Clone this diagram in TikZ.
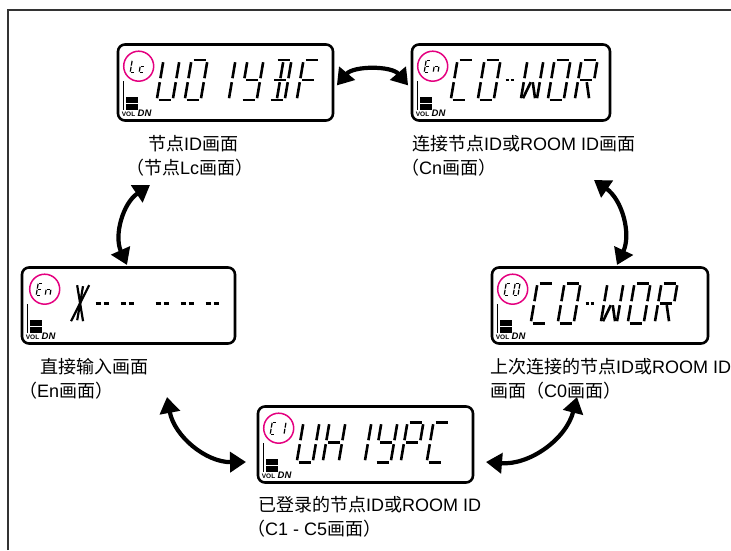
\documentclass[tikz,border=0pt]{standalone}
\usepackage{fontspec}
\setmainfont{Liberation Sans}
\newfontfamily\cjk{Noto Sans CJK SC}
\usetikzlibrary{arrows.meta,positioning}
\definecolor{tagpink}{HTML}{E4007F}
\definecolor{framegray}{HTML}{333333}
\newcommand\zh[1]{{\cjk #1}}
% segments of one slanted lcd cell (16 x 40)
\def\segpatha{(2,40)--(14,40)}
\def\segpathb{(16,38)--(16,22)}
\def\segpathc{(16,18)--(16,2)}
\def\segpathd{(2,0)--(14,0)}
\def\segpathe{(0,2)--(0,18)}
\def\segpathf{(0,22)--(0,38)}
\def\segpathg{(2,20)--(14,20)}
\def\segpathh{(2,38)--(7,22)}
\def\segpathi{(8,38)--(8,22)}
\def\segpathj{(14,38)--(9,22)}
\def\segpathk{(7,18)--(2,2)}
\def\segpathl{(8,18)--(8,2)}
\def\segpathm{(9,18)--(14,2)}
\def\segpathx{(2,38)--(14,2)}
\def\segpathy{(14,38)--(2,2)}
\def\segpathz{(8,37)--(8,3)}
\newcommand\lcdglyph[5]{%
  \begin{scope}[shift={(#1,#2)},scale=#3,xslant=0.17]
    \foreach \s in {#5}{%
      \expandafter\let\expandafter\segp\csname segpath\s\endcsname
      \draw[line width=#4] \segp;}
  \end{scope}}
\newcommand\bigglyph[2]{\lcdglyph{#1}{-57}{1}{2.6pt}{#2}}
\newcommand\tagglyphs[4]{%
  \lcdglyph{#1-8.5}{#2-6}{0.3}{1.2pt}{#3}%
  \lcdglyph{#1+0.5}{#2-6}{0.3}{1.2pt}{#4}}
\newcommand\voldn{%
  \draw[line width=1.2pt] (7,-38)--(7,-67);
  \fill (9,-54) rectangle (21,-67);
  \draw[white,line width=0.9pt] (9,-60.5)--(21,-60.5);
  \node[anchor=base west,inner sep=0pt,font=\fontsize{6.5}{7}\selectfont\bfseries] (vol) at (5,-73.5) {VOL};
  \node[anchor=base west,inner sep=0pt,font=\fontsize{9.5}{10}\selectfont\bfseries\itshape] (dn) at ([xshift=2pt]vol.base east) {DN};}
\tikzset{
  lcd/.style={draw=black,line width=2.6pt,rounded corners=7pt,minimum height=76pt,inner sep=0pt},
  tag ring/.style={circle,draw=tagpink,line width=1.5pt,minimum size=30pt,inner sep=0pt},
  swap arrow/.style={draw=black,line width=4.2pt,
    {Triangle[length=16pt,width=20pt]}-{Triangle[length=16pt,width=20pt]}},
  caption/.style={anchor=north west,inner sep=0pt,align=left,font=\fontsize{18}{24.5}\selectfont},
  frame/.style={draw=framegray,line width=2pt}
}

\begin{document}
\begin{tikzpicture}[x=1pt,y=1pt]
  \useasboundingbox (0,0) rectangle (731,550);
  \draw[frame] (8,0) -- (8,540) -- (731,540);
  % screens
  \node[lcd,minimum width=215pt] (lc) at (225.5,467.5) {};
  \node[lcd,minimum width=198pt] (cn) at (511,467.5) {};
  \node[lcd,minimum width=213pt] (en) at (128.5,244.5) {};
  \node[lcd,minimum width=216pt] (co) at (600,244.5) {};
  \node[lcd,minimum width=215pt] (cone) at (365.5,105.5) {};
  % node screen
  \begin{scope}[shift={(lc.north west)}]
    \node[tag ring] (lctag) at (22,-23) {};
    \tagglyphs{22}{-23}{f,e,d}{g,e,d}
    \bigglyph{40}{f,e,d,c,b}
    \bigglyph{68}{a,b,c,d,e,f}
    \bigglyph{96}{b,c}
    \bigglyph{124}{f,b,g,c,d}
    \bigglyph{152}{a,b,c,d,g,i,l}
    \bigglyph{180}{a,f,e,g}
    \voldn
  \end{scope}
  % connect screen
  \begin{scope}[shift={(cn.north west)}]
    \node[tag ring] (cntag) at (22,-23) {};
    \tagglyphs{22}{-23}{a,f,g,e,d}{e,g,c}
    \bigglyph{40}{a,f,e,d}
    \bigglyph{67}{a,b,c,d,e,f}
    \draw[line width=2.6pt] (95,-37)--(98,-37) (100,-37)--(103,-37);
    \bigglyph{110}{f,e,k,m,c,b}
    \bigglyph{137}{a,b,c,d,e,f}
    \bigglyph{164}{a,b,f,e,g,m}
    \voldn
  \end{scope}
  % direct input screen
  \begin{scope}[shift={(en.north west)}]
    \node[tag ring] (entag) at (24,-23) {};
    \tagglyphs{24}{-23}{a,f,g,e,d}{e,g,c}
    \lcdglyph{48}{-57}{1}{2.2pt}{x,y,z}
    \foreach \p in {75,100,135,160,185}
      \draw[line width=2.6pt] (\p,-37)--++(5,0) ++(3,0)--++(5,0);
    \voldn
  \end{scope}
  % last connected screen
  \begin{scope}[shift={(co.north west)}]
    \node[tag ring] (cotag) at (22,-23) {};
    \tagglyphs{22}{-23}{a,f,e,d}{a,b,c,d,e,f}
    \bigglyph{40}{a,f,e,d}
    \bigglyph{67}{a,b,c,d,e,f}
    \draw[line width=2.6pt] (95,-37)--(98,-37) (100,-37)--(103,-37);
    \bigglyph{110}{f,e,k,m,c,b}
    \bigglyph{137}{a,b,c,d,e,f}
    \bigglyph{164}{a,b,f,e,g,m}
    \voldn
  \end{scope}
  % registered screen
  \begin{scope}[shift={(cone.north west)}]
    \node[tag ring] (c1tag) at (22,-23) {};
    \tagglyphs{22}{-23}{a,f,e,d}{b,c}
    \bigglyph{40}{f,e,d,c,b}
    \bigglyph{66}{f,e,g,b,c}
    \bigglyph{92}{b,c}
    \bigglyph{118}{f,b,g,c,d}
    \bigglyph{144}{a,b,f,e,g}
    \bigglyph{170}{a,f,e,d}
    \voldn
  \end{scope}
  % captions
  \node[caption] (lccap) at (148,415) {\zh{节点}ID\zh{画面}\\\hspace*{-22pt}\zh{（节点}Lc\zh{画面）}};
  \node[caption] (cncap) at (412,415) {\zh{连接节点}ID\zh{或}ROOM ID\zh{画面}\\\hspace*{-11pt}\zh{（}Cn\zh{画面）}};
  \node[caption] (encap) at (40,192) {\zh{直接输入画面}\\\hspace*{-21pt}\zh{（}En\zh{画面）}};
  \node[caption] (cocap) at (490,192) {\zh{上次连接的节点}ID\zh{或}ROOM ID\\\zh{画面（}C0\zh{画面）}};
  \node[caption] (c1cap) at (258,54) {\zh{已登录的节点}ID\zh{或}ROOM ID\\\hspace*{-11pt}\zh{（}C1 - C5\zh{画面）}};
  % arrows
  \coordinate (lcA) at (150,365);
  \coordinate (enA) at (127,285);
  \coordinate (cnA) at (594,370);
  \coordinate (coA) at (617,285);
  \coordinate (enB) at (167,153);
  \coordinate (c1A) at (246,88);
  \coordinate (c1B) at (486,88);
  \coordinate (coB) at (577,153);
  \draw[swap arrow,shorten <=4pt,shorten >=4pt] ([yshift=-6pt]lc.east) to[bend left=50] ([yshift=-6pt]cn.west);
  \draw[swap arrow] (lcA) to[bend right=40] (enA);
  \draw[swap arrow] (cnA) to[bend left=40] (coA);
  \draw[swap arrow] (enB) to[bend right=40] (c1A);
  \draw[swap arrow] (c1B) to[bend right=40] (coB);
\end{tikzpicture}
\end{document}
